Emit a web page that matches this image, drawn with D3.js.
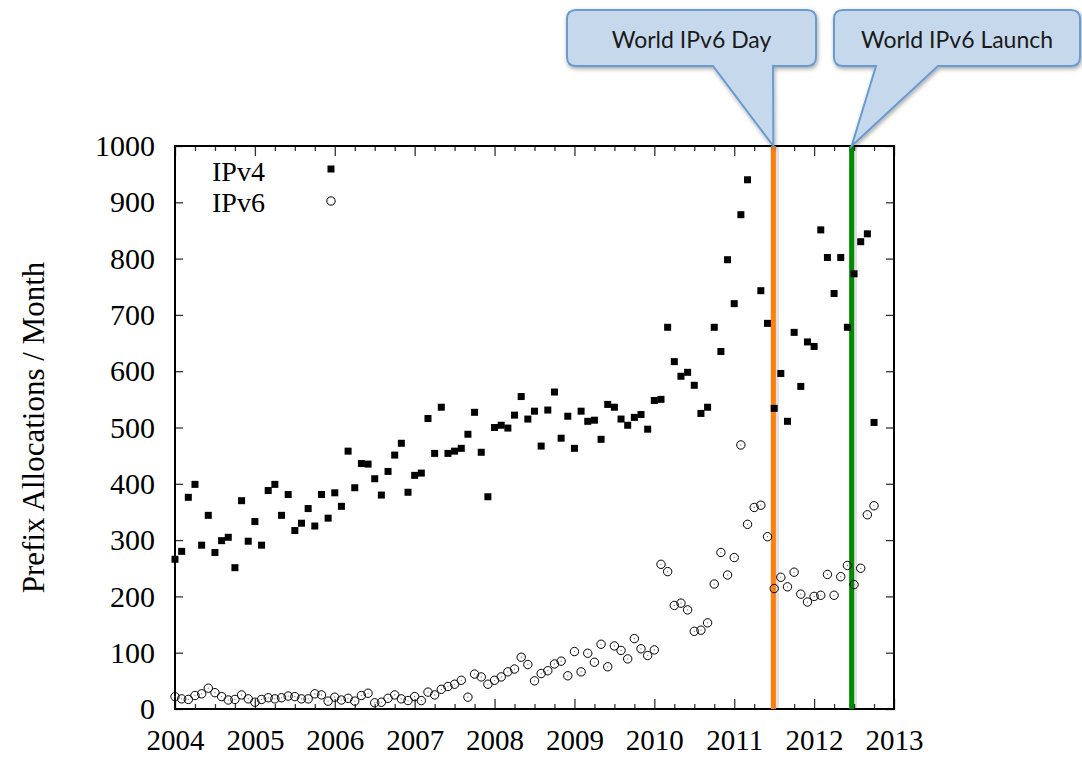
<!DOCTYPE html>
<html>
<head>
<meta charset="utf-8">
<script src="https://cdn.jsdelivr.net/npm/d3@7"></script>
<style>
	body { margin: 0; background: #fff; }
	.tick_label { font-family: "Liberation Serif", "Times New Roman", serif; fill: #000; }
	.callout_text { font-family: Lato, "Open Sans", sans-serif; font-size: 23px; fill: #1a1a1a; }
</style>
</head>
<body>
<div id="chart_prefixes"></div>
<script>
// Prefix allocations per month, IPv4 vs IPv6, 2004 - 2012

// monthly values, first point is jan 2004 (null = no point drawn)
var ipv4_values = [
	266, 280, 376, 399, 291, 344, 278, 299, 305, 251, 370, 298,
	333, 291, 388, 399, 344, 381, 317, 330, 356, 325, 381, 339,
	384, 360, 458, 393, 436, 435, 409, 380, 422, 451, 472, 385,
	415, 419, 516, 454, 536, 454, 458, 463, 488, 527, 456, 377,
	500, 504, 499, 522, 555, 515, 529, 467, 531, 563, 481, 520,
	463, 529, 511, 513, 479, 541, 536, 515, 504, 518, 523, 497,
	548, 550, 678, 617, 591, 598, 575, 525, 536, 678, 635, 798,
	720, 878, 940, null, 743, 685, 534, 596, 511, 669, 573, 652,
	644, 851, 802, 738, 802, 678, 773, 830, 844, 509
];
var ipv6_values = [
	22, 18, 17, 24, 27, 37, 29, 22, 16, 17, 25, 18,
	12, 17, 20, 18, 20, 23, 22, 18, 18, 27, 25, 14,
	21, 16, 19, 14, 24, 28, 11, 12, 19, 25, 18, 15,
	22, 15, 30, 25, 35, 40, 44, 51, 21, 62, 57, 44,
	51, 57, 66, 71, 92, 79, 50, 63, 68, 80, 85, 59,
	102, 66, 99, 83, 115, 75, 112, 104, 89, 125, 107, 95,
	105, 257, 244, 184, 188, 176, 138, 140, 153, 222, 278, 238,
	269, 469, 328, 358, 362, 306, 214, 234, 217, 243, 204, 190,
	200, 202, 239, 202, 235, 255, 221, 250, 345, 361
];
var start_year = 2004;
var year_ticks = [2004, 2005, 2006, 2007, 2008, 2009, 2010, 2011, 2012, 2013];
var value_ticks = [0, 100, 200, 300, 400, 500, 600, 700, 800, 900, 1000];
var series_names = ["IPv4", "IPv6"];

// events marked with a vertical line and a callout
var event_names = ["World IPv6 Day", "World IPv6 Launch"];
var event_dates = [2011.49, 2012.47];
var event_colors = ["#ff7f0e", "#008a00"];

var width = 1082, height = 757;
var plot = { left: 175, right: 894, top: 146, bottom: 709 };

var svg = d3.select("#chart_prefixes")
	.append("svg")
		.attr("width", width)
		.attr("height", height);

var defs = svg.append("defs");
var shadow = defs.append("filter")
	.attr("id", "soft_shadow")
	.attr("x", "-20%").attr("y", "-20%")
	.attr("width", "140%").attr("height", "160%");
shadow.append("feDropShadow")
	.attr("dx", 1).attr("dy", 2)
	.attr("stdDeviation", 2)
	.attr("flood-color", "#000")
	.attr("flood-opacity", 0.35);

var x = d3.scaleLinear().domain([2004, 2013]).range([plot.left, plot.right]);
var y = d3.scaleLinear().domain([0, 1000]).range([plot.bottom, plot.top]);

// turn the monthly arrays into points
function to_points(values) {
	return values.map(function(v, i) { return { date: start_year + i / 12, value: v }; })
		.filter(function(d) { return d.value !== null; });
}
var ipv4_points = to_points(ipv4_values);
var ipv6_points = to_points(ipv6_values);

// quarter ticks for the x axis
var quarter_ticks = d3.range(0, 37).map(function(q) { return 2004 + q / 4; })
	.filter(function(t) { return t % 1 !== 0; });

// axes: labels on bottom/left, inward ticks mirrored on top/right
var xAxisBottom = d3.axisBottom(x).tickValues(year_ticks).tickFormat(d3.format("d")).tickSize(-10).tickPadding(20);
var xAxisTop = d3.axisTop(x).tickValues(year_ticks).tickFormat("").tickSize(-10);
var yAxisLeft = d3.axisLeft(y).tickValues(value_ticks).tickFormat(d3.format("d")).tickSize(-8).tickPadding(20);
var yAxisRight = d3.axisRight(y).tickValues(value_ticks).tickFormat("").tickSize(-8);

var gx = svg.append("g")
	.attr("transform", "translate(0," + plot.bottom + ")")
	.call(xAxisBottom);
svg.append("g")
	.attr("transform", "translate(0," + plot.top + ")")
	.call(xAxisTop);
var gy = svg.append("g")
	.attr("transform", "translate(" + plot.left + ",0)")
	.call(yAxisLeft);
svg.append("g")
	.attr("transform", "translate(" + plot.right + ",0)")
	.call(yAxisRight);

// minor quarter ticks
svg.append("g")
	.attr("transform", "translate(0," + plot.bottom + ")")
	.call(d3.axisBottom(x).tickValues(quarter_ticks).tickFormat("").tickSize(-5));
svg.append("g")
	.attr("transform", "translate(0," + plot.top + ")")
	.call(d3.axisTop(x).tickValues(quarter_ticks).tickFormat("").tickSize(-5));

svg.selectAll(".domain").remove();
svg.selectAll(".tick line").attr("stroke", "#333").attr("stroke-width", 1.3);
svg.selectAll(".tick text")
	.attr("class", "tick_label")
	.attr("font-family", null);
gx.selectAll(".tick text").style("font-size", "29px");
gy.selectAll(".tick text").style("font-size", "30px");

// frame
svg.append("rect")
	.attr("x", plot.left)
	.attr("y", plot.top)
	.attr("width", plot.right - plot.left)
	.attr("height", plot.bottom - plot.top)
	.attr("fill", "none")
	.attr("stroke", "#000")
	.attr("stroke-width", 2);

// y axis title
svg.append("text")
	.attr("class", "tick_label")
	.attr("transform", "translate(44," + ((plot.top + plot.bottom) / 2) + ") rotate(-90)")
	.style("text-anchor", "middle")
	.style("font-size", "31px")
	.text("Prefix Allocations / Month");

// event lines (no filter: a vertical line has a zero-width box)
svg.selectAll(".event_shade")
	.data(event_dates)
.enter().append("line")
	.attr("class", "event_shade")
	.attr("x1", function(d) { return x(d) + 1.5; })
	.attr("x2", function(d) { return x(d) + 1.5; })
	.attr("y1", plot.top)
	.attr("y2", plot.bottom)
	.attr("stroke", "#000")
	.attr("stroke-opacity", 0.12)
	.attr("stroke-width", 8);

svg.selectAll(".event_line")
	.data(event_dates)
.enter().append("line")
	.attr("class", "event_line")
	.attr("x1", function(d) { return x(d); })
	.attr("x2", function(d) { return x(d); })
	.attr("y1", plot.top)
	.attr("y2", plot.bottom)
	.attr("stroke", function(d, i) { return event_colors[i]; })
	.attr("stroke-width", 5);

// ipv6 circles
svg.selectAll(".ipv6")
	.data(ipv6_points)
.enter().append("circle")
	.attr("class", "ipv6")
	.attr("cx", function(d) { return x(d.date); })
	.attr("cy", function(d) { return y(d.value); })
	.attr("r", 4.2)
	.attr("fill", "none")
	.attr("stroke", "#000")
	.attr("stroke-width", 1);

svg.selectAll(".ipv6_dot")
	.data(ipv6_points)
.enter().append("circle")
	.attr("class", "ipv6_dot")
	.attr("cx", function(d) { return x(d.date); })
	.attr("cy", function(d) { return y(d.value); })
	.attr("r", 0.6)
	.attr("fill", "#666");

// ipv4 squares
var sq = 7;
svg.selectAll(".ipv4")
	.data(ipv4_points)
.enter().append("rect")
	.attr("class", "ipv4")
	.attr("x", function(d) { return x(d.date) - sq / 2; })
	.attr("y", function(d) { return y(d.value) - sq / 2; })
	.attr("width", sq)
	.attr("height", sq)
	.attr("fill", "#000");

// legend
var legend = svg.append("g");
legend.selectAll("text")
	.data(series_names)
.enter().append("text")
	.attr("class", "tick_label")
	.attr("x", 212)
	.attr("y", function(d, i) { return 181 + i * 31; })
	.style("font-size", "28px")
	.text(function(d) { return d; });
legend.append("rect")
	.attr("x", 331 - sq / 2).attr("y", 169 - sq / 2)
	.attr("width", sq).attr("height", sq)
	.attr("fill", "#000");
legend.append("circle")
	.attr("cx", 331).attr("cy", 201).attr("r", 4.2)
	.attr("fill", "none").attr("stroke", "#000");

// callouts: rounded box with a tail pointing at the top of each event line
var callout_boxes = [
	{ x0: 567, x1: 816, tail0: 713, tail1: 773 },
	{ x0: 834, x1: 1080, tail0: 876, tail1: 938 }
];
var box_top = 10, box_bottom = 66, r = 9;

function callout_path(b, tip_x) {
	var p = d3.path();
	p.moveTo(b.x0 + r, box_top);
	p.lineTo(b.x1 - r, box_top);
	p.quadraticCurveTo(b.x1, box_top, b.x1, box_top + r);
	p.lineTo(b.x1, box_bottom - r);
	p.quadraticCurveTo(b.x1, box_bottom, b.x1 - r, box_bottom);
	p.lineTo(b.tail1, box_bottom);
	p.lineTo(tip_x, plot.top);
	p.lineTo(b.tail0, box_bottom);
	p.lineTo(b.x0 + r, box_bottom);
	p.quadraticCurveTo(b.x0, box_bottom, b.x0, box_bottom - r);
	p.lineTo(b.x0, box_top + r);
	p.quadraticCurveTo(b.x0, box_top, b.x0 + r, box_top);
	p.closePath();
	return p.toString();
}

var callouts = svg.selectAll(".callout")
	.data(event_names)
.enter().append("g")
	.attr("class", "callout");

callouts.append("path")
	.attr("d", function(d, i) { return callout_path(callout_boxes[i], x(event_dates[i])); })
	.attr("fill", "#c6d9ec")
	.attr("stroke", "#6a9bd0")
	.attr("stroke-width", 2)
	.attr("filter", "url(#soft_shadow)");

callouts.append("text")
	.attr("class", "callout_text")
	.attr("x", function(d, i) { return (callout_boxes[i].x0 + callout_boxes[i].x1) / 2; })
	.attr("y", 48)
	.style("text-anchor", "middle")
	.text(function(d) { return d; });
</script>
</body>
</html>
